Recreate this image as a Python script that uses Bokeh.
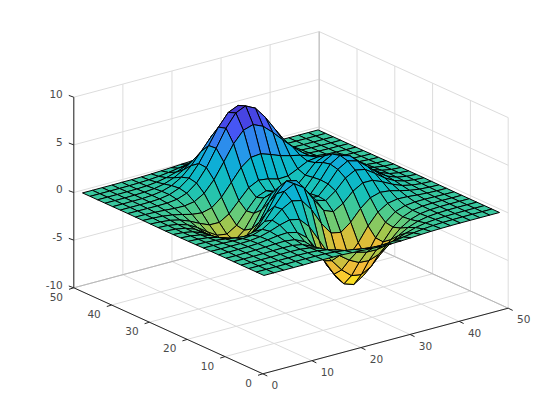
from bokeh.plotting import figure
from bokeh.models import Range1d
from bokeh.core.properties import value
from bokeh.embed import file_html
from bokeh.resources import INLINE

# Surface heights, 25 x 25 samples read on the 1..49 mesh (rows: y rising, columns: x rising)
mesh_x = [1, 3, 5, 7, 9, 11, 13, 15, 17, 19, 21, 23, 25, 27, 29, 31, 33, 35, 37, 39, 41, 43, 45, 47, 49]
mesh_y = [1, 3, 5, 7, 9, 11, 13, 15, 17, 19, 21, 23, 25, 27, 29, 31, 33, 35, 37, 39, 41, 43, 45, 47, 49]
Z = [
[0,0,0,0,0,.01,0,0,-.03,-.08,-.14,-.20,-.24,-.25,-.22,-.17,-.11,-.06,-.03,-.01,0,0,0,0,0],
[0,0,0,0,.01,.01,0,-.02,-.10,-.22,-.39,-.56,-.68,-.69,-.61,-.46,-.30,-.17,-.08,-.03,-.01,0,0,0,0],
[0,0,0,.01,.01,.02,0,-.07,-.23,-.53,-.92,-1.31,-1.57,-1.60,-1.41,-1.06,-.69,-.38,-.18,-.08,-.03,-.01,0,0,0],
[0,0,.01,.01,.03,.04,.01,-.12,-.44,-1.00,-1.74,-2.50,-3.02,-3.10,-2.72,-2.05,-1.32,-.73,-.35,-.14,-.05,-.01,0,0,0],
[0,0,.01,.02,.05,.07,.05,-.13,-.59,-1.45,-2.64,-3.88,-4.76,-4.93,-4.35,-3.27,-2.10,-1.15,-.53,-.20,-.06,-.01,0,0,0],
[0,0,.01,.03,.07,.13,.15,.02,-.46,-1.48,-3.01,-4.69,-5.98,-6.33,-5.64,-4.25,-2.69,-1.42,-.61,-.20,-.04,0,.01,0,0],
[0,0,.01,.03,.08,.19,.33,.39,.15,-.68,-2.18,-4.07,-5.68,-6.32,-5.76,-4.32,-2.63,-1.27,-.44,-.07,.04,.05,.03,.01,0],
[0,-.01,-.01,-.01,.03,.17,.45,.83,1.10,.88,-.15,-1.85,-3.61,-4.60,-4.40,-3.23,-1.74,-.56,.08,.27,.23,.13,.06,.02,.01],
[-.01,-.02,-.06,-.10,-.13,-.04,.30,.98,1.86,2.45,2.22,1.00,-.73,-2.02,-2.22,-1.43,-.27,.58,.88,.77,.50,.26,.11,.04,.01],
[-.02,-.05,-.12,-.25,-.42,-.51,-.28,.49,1.78,3.09,3.63,2.94,1.40,0,-.41,.20,1.18,1.79,1.78,1.35,.82,.41,.18,.06,.02],
[-.03,-.08,-.20,-.44,-.80,-1.16,-1.21,-.60,.80,2.49,3.55,3.31,2.00,.70,.39,1.14,2.20,2.76,2.56,1.88,1.12,.56,.24,.09,.03],
[-.03,-.10,-.27,-.60,-1.14,-1.77,-2.16,-1.83,-.56,1.23,2.56,2.63,1.59,.53,.48,1.50,2.75,3.37,3.09,2.25,1.34,.67,.28,.10,.03],
[-.04,-.11,-.30,-.69,-1.33,-2.14,-2.77,-2.71,-1.65,.06,1.48,1.75,.98,.19,.38,1.57,2.94,3.58,3.27,2.37,1.41,.70,.30,.11,.03],
[-.04,-.11,-.29,-.67,-1.32,-2.16,-2.87,-2.98,-2.15,-.65,.68,1.06,.52,-.03,.28,1.47,2.76,3.36,3.06,2.22,1.32,.66,.28,.10,.03],
[-.03,-.09,-.25,-.57,-1.12,-1.85,-2.49,-2.64,-2.00,-.76,.39,.80,.46,.09,.38,1.34,2.38,2.84,2.56,1.85,1.09,.54,.23,.08,.03],
[-.02,-.07,-.18,-.42,-.82,-1.33,-1.76,-1.78,-1.16,-.05,1.04,1.55,1.42,1.12,1.17,1.65,2.17,2.32,1.99,1.40,.82,.40,.17,.06,.02],
[-.01,-.04,-.11,-.25,-.48,-.74,-.86,-.60,.23,1.51,2.80,3.59,3.69,3.34,2.94,2.66,2.44,2.08,1.58,1.04,.58,.28,.11,.04,.01],
[-.01,-.02,-.06,-.12,-.20,-.22,-.05,.55,1.70,3.29,4.92,6.07,6.39,5.94,5.02,3.97,2.97,2.09,1.35,.79,.41,.19,.07,.03,.01],
[0,-.01,-.02,-.03,-.01,.11,.48,1.27,2.61,4.37,6.19,7.53,7.99,7.47,6.25,4.72,3.25,2.05,1.18,.62,.29,.12,.05,.02,0],
[0,0,0,.01,.07,.24,.65,1.43,2.68,4.29,5.96,7.22,7.68,7.19,5.99,4.45,2.96,1.78,.96,.47,.21,.08,.03,.01,0],
[0,0,.01,.02,.08,.23,.55,1.16,2.10,3.31,4.56,5.51,5.86,5.50,4.57,3.37,2.21,1.29,.68,.32,.13,.05,.02,.01,0],
[0,0,0,.02,.06,.15,.36,.74,1.32,2.07,2.84,3.43,3.65,3.42,2.84,2.09,1.36,.79,.41,.19,.08,.03,.01,0,0],
[0,0,0,.01,.03,.08,.19,.39,.69,1.07,1.47,1.77,1.88,1.77,1.47,1.08,.70,.40,.20,.09,.04,.01,0,0,0],
[0,0,0,0,.01,.04,.08,.17,.30,.47,.64,.77,.82,.77,.64,.47,.30,.17,.09,.04,.02,.01,0,0,0],
[0,0,0,0,.01,.01,.03,.06,.11,.17,.23,.28,.30,.28,.23,.17,.11,.06,.03,.01,.01,0,0,0,0],
]
x_ticks = [0, 10, 20, 30, 40, 50]
y_ticks = [0, 10, 20, 30, 40, 50]
z_ticks = [-10, -5, 0, 5, 10]

# Projection of the box onto the page (pixels)
FRONT = (262.3, 373.3)
XDIR = (245.4, -65.6)
YDIR = (-189.0, -86.0)
ZH = 190.6
XMAX = YMAX = 50.0
ZMIN, ZMAX = -10.0, 10.0


def proj(x, y, z):
    fz = (z - ZMIN) / (ZMAX - ZMIN)
    return (FRONT[0] + x / XMAX * XDIR[0] + y / YMAX * YDIR[0],
            FRONT[1] + x / XMAX * XDIR[1] + y / YMAX * YDIR[1] - fz * ZH)


CMAP = [(0.000, (.2700, .1800, .7800)), (0.125, (.2810, .3228, .9579)),
        (0.250, (.1540, .5902, .9218)), (0.375, (.0297, .7082, .8163)),
        (0.500, (.1000, .7600, .7200)), (0.600, (.3300, .8000, .5300)),
        (0.690, (.6400, .7800, .3000)), (0.760, (.8800, .7400, .2200)),
        (0.840, (.9800, .7300, .2200)), (1.000, (.9769, .9839, .0805))]
CLIM = (8.11, -6.55)


def colour(v):
    t = max(0.0, min(1.0, (v - CLIM[0]) / (CLIM[1] - CLIM[0])))
    for (t0, c0), (t1, c1) in zip(CMAP, CMAP[1:]):
        if t <= t1:
            f = (t - t0) / (t1 - t0)
            r, g, b = [int(round(255 * (a + (d - a) * f))) for a, d in zip(c0, c1)]
            return f"#{r:02x}{g:02x}{b:02x}"
    return "#f9fb14"


p = figure(width=544, height=404, x_range=Range1d(0, 544), y_range=Range1d(404, 0),
           x_axis_type=None, y_axis_type=None, toolbar_location=None,
           output_backend="svg", min_border=0, outline_line_color=None,
           background_fill_color="white", border_fill_color="white")
p.grid.visible = False


def seg(a, b, color, width=1.0):
    p.line([a[0], b[0]], [a[1], b[1]], line_color=color, line_width=width)


GRID = "#dcdcdc"
EDGE = "#262626"
# back walls and floor grid
for z in z_ticks:
    seg(proj(0, 50, z), proj(50, 50, z), GRID)
    seg(proj(50, 50, z), proj(50, 0, z), GRID)
for x in x_ticks:
    seg(proj(x, 50, ZMIN), proj(x, 50, ZMAX), GRID)
    seg(proj(x, 0, ZMIN), proj(x, 50, ZMIN), GRID)
for y in y_ticks:
    seg(proj(50, y, ZMIN), proj(50, y, ZMAX), GRID)
    seg(proj(0, y, ZMIN), proj(50, y, ZMIN), GRID)
seg(proj(50, 50, ZMIN), proj(50, 50, ZMAX), "#bdbdbd")
seg(proj(0, 50, ZMIN), proj(50, 50, ZMIN), "#b8b8b8")
seg(proj(50, 50, ZMIN), proj(50, 0, ZMIN), "#b8b8b8")

# surface, painted from the back corner to the front corner
xs, ys, cols = [], [], []
for j in range(len(mesh_y) - 2, -1, -1):
    for i in range(len(mesh_x) - 2, -1, -1):
        corners = [(i, j), (i + 1, j), (i + 1, j + 1), (i, j + 1)]
        pts = [proj(mesh_x[a], mesh_y[b], Z[b][a]) for a, b in corners]
        xs.append([q[0] for q in pts])
        ys.append([q[1] for q in pts])
        cols.append(colour(sum(Z[b][a] for a, b in corners) / 4))
p.patches(xs, ys, fill_color=cols, line_color="black", line_width=1.0)

# axes and ticks
seg(proj(0, 50, ZMIN), proj(0, 50, ZMAX), EDGE)
seg(proj(0, 50, ZMIN), proj(0, 0, ZMIN), EDGE)
seg(proj(0, 0, ZMIN), proj(50, 0, ZMIN), EDGE)
FONT = value("DejaVu Sans")
TXT = "#4a4a4a"
for z in z_ticks:
    a = proj(0, 50, z)
    seg(a, (a[0] - 5, a[1] - 1.8), EDGE)
    p.text([a[0] - 11], [a[1] - 3.3], text=[str(z)], text_font=FONT, text_font_size="10.5px",
           text_color=TXT, text_align="right", text_baseline="middle")
for y in y_ticks:
    a = proj(0, y, ZMIN)
    seg(a, (a[0] - 4.8, a[1] + 1.5), EDGE)
    p.text([a[0] - 10.8], [a[1] + 9.0], text=[str(y)], text_font=FONT, text_font_size="10.5px",
           text_color=TXT, text_align="right", text_baseline="middle")
for x in x_ticks:
    a = proj(x, 0, ZMIN)
    seg(a, (a[0] + 4.5, a[1] + 2.2), EDGE)
    p.text([a[0] + 8.8], [a[1] + 11.2], text=[str(x)], text_font=FONT, text_font_size="10.5px",
           text_color=TXT, text_align="left", text_baseline="middle")

open("out.html", "w").write(file_html(p, INLINE))
